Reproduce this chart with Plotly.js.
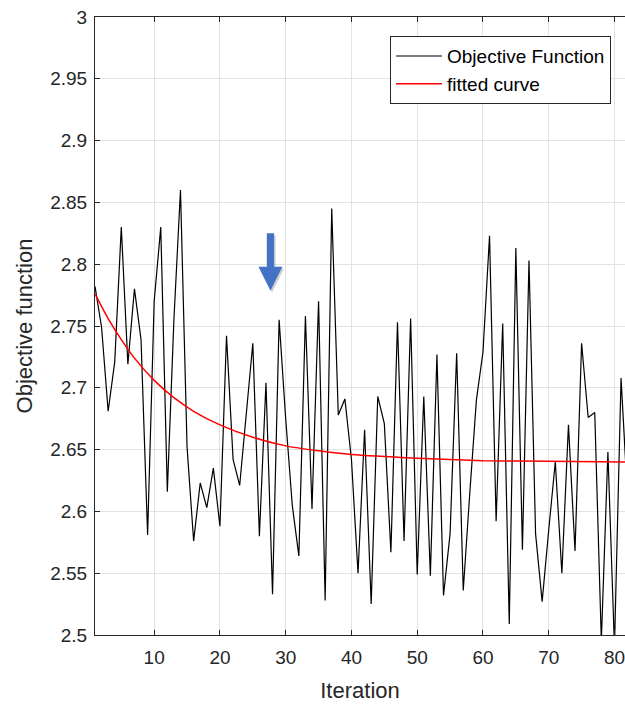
<!DOCTYPE html>
<html>
<head>
<meta charset="utf-8">
<script src="https://cdn.plot.ly/plotly-3.0.1.min.js"></script>
<style>
  html, body { margin: 0; padding: 0; background: #ffffff; }
  #chart { width: 625px; height: 705px; }
</style>
</head>
<body>
<div id="chart"></div>
<script>
// ---- Data ----
const objectiveValues = [
  2.782, 2.749, 2.681, 2.721, 2.830, 2.719, 2.780, 2.739, 2.581, 2.770,
  2.830, 2.616, 2.755, 2.860, 2.652, 2.576, 2.623, 2.603, 2.635, 2.588,
  2.742, 2.642, 2.621, 2.679, 2.736, 2.580, 2.704, 2.533, 2.755, 2.675,
  2.605, 2.564, 2.758, 2.602, 2.770, 2.528, 2.845, 2.678, 2.691, 2.642,
  2.550, 2.666, 2.525, 2.693, 2.671, 2.567, 2.753, 2.576, 2.756, 2.549,
  2.693, 2.548, 2.727, 2.532, 2.582, 2.728, 2.536, 2.615, 2.690, 2.729,
  2.823, 2.592, 2.752, 2.509, 2.813, 2.569, 2.803, 2.582, 2.527, 2.585,
  2.640, 2.550, 2.670, 2.568, 2.736, 2.676, 2.680, 2.495, 2.648, 2.490,
  2.708, 2.610
];
const iterations = objectiveValues.map((_, i) => i + 1);

const fittedX = [1, 3, 5, 7, 10, 13, 16, 20, 25, 30, 35, 40, 50, 60, 70, 82];
const fittedY = [2.776, 2.756, 2.739, 2.724, 2.706, 2.692, 2.681, 2.670, 2.660,
                 2.653, 2.649, 2.646, 2.643, 2.641, 2.6405, 2.640];

const xTickVals = [10, 20, 30, 40, 50, 60, 70, 80];
const yTickVals = [2.5, 2.55, 2.6, 2.65, 2.7, 2.75, 2.8, 2.85, 2.9, 2.95, 3];
const yTickText = ['2.5', '2.55', '2.6', '2.65', '2.7', '2.75', '2.8', '2.85', '2.9', '2.95', '3'];

const seriesNames = ['Objective Function', 'fitted curve'];
const titles = { x: 'Iteration', y: 'Objective function' };

// ---- Arrow annotation (block arrow), in data units ----
const arrow = { cx: 27.68, shaftHalf: 0.55, headHalf: 1.82, top: 2.825, headBase: 2.798, tip: 2.7786 };
function arrowPath(a, dx, dy) {
  const p = [
    [a.cx - a.shaftHalf, a.top], [a.cx + a.shaftHalf, a.top],
    [a.cx + a.shaftHalf, a.headBase], [a.cx + a.headHalf, a.headBase],
    [a.cx, a.tip], [a.cx - a.headHalf, a.headBase],
    [a.cx - a.shaftHalf, a.headBase]
  ];
  return 'M ' + p.map(q => (q[0] + dx) + ',' + (q[1] + dy)).join(' L ') + ' Z';
}

const FONT = 'Liberation Sans, Arial, Helvetica, sans-serif';
const AX = '#262626';

const traces = [
  {
    x: iterations, y: objectiveValues, name: seriesNames[0],
    type: 'scatter', mode: 'lines',
    line: { color: '#000000', width: 1.2 }
  },
  {
    x: fittedX, y: fittedY, name: seriesNames[1],
    type: 'scatter', mode: 'lines',
    line: { color: '#ff0000', width: 1.5, shape: 'spline', smoothing: 0.6 }
  }
];

const layout = {
  width: 625, height: 705,
  margin: { l: 95, r: 0, t: 17, b: 70, pad: 0 },
  paper_bgcolor: '#ffffff', plot_bgcolor: '#ffffff',
  font: { family: FONT, color: AX, size: 19 },
  showlegend: true,
  legend: {
    x: 0.9736, xanchor: 'right', y: 0.969, yanchor: 'top',
    bgcolor: '#ffffff', bordercolor: AX, borderwidth: 1,
    font: { family: FONT, size: 19, color: '#000000' },
    itemwidth: 46,
    tracegroupgap: 0
  },
  xaxis: {
    range: [1, 81.6], autorange: false,
    tickvals: xTickVals,
    ticks: 'inside', ticklen: 5, tickcolor: AX, tickwidth: 1,
    ticklabeloverflow: 'allow', ticklabelstandoff: 5,
    showline: true, linecolor: AX, linewidth: 1, mirror: 'ticks',
    showgrid: true, gridcolor: '#e2e2e2', gridwidth: 1,
    zeroline: false,
    tickfont: { family: FONT, size: 19, color: AX },
    title: { text: titles.x, font: { family: FONT, size: 22, color: AX }, standoff: 15 }
  },
  yaxis: {
    range: [2.5, 3], autorange: false,
    tickvals: yTickVals, ticktext: yTickText,
    ticks: 'inside', ticklen: 5, tickcolor: AX, tickwidth: 1,
    ticklabelstandoff: 3,
    showline: true, linecolor: AX, linewidth: 1, mirror: false,
    showgrid: true, gridcolor: '#e2e2e2', gridwidth: 1,
    zeroline: false,
    tickfont: { family: FONT, size: 19, color: AX },
    title: { text: titles.y, font: { family: FONT, size: 22, color: AX }, standoff: 11 }
  },
  shapes: [
    { type: 'path', xref: 'x', yref: 'y', path: arrowPath(arrow, 0.25, -0.0015),
      fillcolor: 'rgba(0,0,0,0.18)', line: { width: 0 } },
    { type: 'path', xref: 'x', yref: 'y', path: arrowPath(arrow, 0, 0),
      fillcolor: '#4472c4', line: { width: 0 } }
  ]
};

Plotly.newPlot('chart', traces, layout, { displayModeBar: false, staticPlot: true });
</script>
</body>
</html>
